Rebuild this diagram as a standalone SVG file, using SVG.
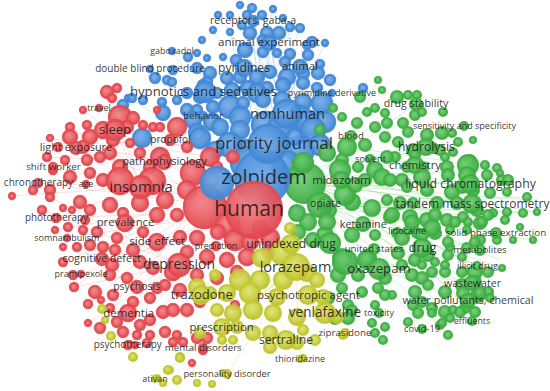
<svg xmlns="http://www.w3.org/2000/svg" width="550" height="391" viewBox="0 0 550 391">
<defs>
<radialGradient id="gr" cx="0.42" cy="0.4" r="0.6"><stop offset="0" stop-color="#f27f82"/><stop offset="1" stop-color="#e1444b"/></radialGradient>
<radialGradient id="gb" cx="0.42" cy="0.4" r="0.6"><stop offset="0" stop-color="#72ace9"/><stop offset="1" stop-color="#3f85d2"/></radialGradient>
<radialGradient id="gg" cx="0.42" cy="0.4" r="0.6"><stop offset="0" stop-color="#6fcd72"/><stop offset="1" stop-color="#3aaa3f"/></radialGradient>
<radialGradient id="gy" cx="0.42" cy="0.4" r="0.6"><stop offset="0" stop-color="#dde36a"/><stop offset="1" stop-color="#bcc22a"/></radialGradient>
</defs>
<style>
.r{fill:url(#gr);fill-opacity:.92;stroke:#e24a50;stroke-width:2.4;stroke-opacity:.92}
.b{fill:url(#gb);fill-opacity:.92;stroke:#4489d4;stroke-width:2.4;stroke-opacity:.92}
.g{fill:url(#gg);fill-opacity:.92;stroke:#3fae44;stroke-width:2.2;stroke-opacity:.92}
.y{fill:url(#gy);fill-opacity:.92;stroke:#c0c630;stroke-width:2.2;stroke-opacity:.92}
text{font-family:"Open Sans","Noto Sans","DejaVu Sans",sans-serif;fill:#1c1c1c;fill-opacity:.9;text-anchor:middle}
.eb line{stroke:#5b9be0;stroke-opacity:.32;stroke-width:.7}
.er line{stroke:#ec6b6f;stroke-opacity:.32;stroke-width:.7}
.eg line{stroke:#5cc160;stroke-opacity:.35;stroke-width:.7}
.ey line{stroke:#cfd24a;stroke-opacity:.4;stroke-width:.7}
</style>
<rect width="550" height="391" fill="#ffffff"/>
<g id="connectors">
<g class="eb">
<line x1="262" y1="178" x2="253" y2="21"/><line x1="262" y1="178" x2="269" y2="43"/><line x1="262" y1="178" x2="244" y2="68"/><line x1="262" y1="178" x2="300" y2="67"/><line x1="262" y1="178" x2="203" y2="92"/><line x1="262" y1="178" x2="230" y2="32"/><line x1="262" y1="178" x2="290" y2="27"/><line x1="262" y1="178" x2="310" y2="42"/><line x1="262" y1="178" x2="325" y2="43"/><line x1="262" y1="178" x2="172" y2="51"/><line x1="262" y1="178" x2="150" y2="69"/><line x1="262" y1="178" x2="197" y2="68"/><line x1="273" y1="144" x2="253" y2="21"/><line x1="273" y1="144" x2="269" y2="43"/><line x1="273" y1="144" x2="250" y2="33"/><line x1="273" y1="144" x2="280" y2="30"/><line x1="273" y1="144" x2="300" y2="67"/><line x1="273" y1="144" x2="317" y2="75"/><line x1="287" y1="114" x2="253" y2="21"/><line x1="287" y1="114" x2="269" y2="43"/><line x1="287" y1="114" x2="247" y2="15"/><line x1="287" y1="114" x2="262" y2="15"/><line x1="240" y1="140" x2="273" y2="9"/><line x1="300" y1="130" x2="218" y2="15"/><line x1="250" y1="160" x2="300" y2="28"/><line x1="273" y1="144" x2="332" y2="93"/><line x1="262" y1="178" x2="128" y2="98"/><line x1="240" y1="130" x2="290" y2="27"/><line x1="300" y1="118" x2="230" y2="15"/><line x1="265" y1="125" x2="213" y2="30"/>
</g>
<g class="er">
<line x1="252" y1="210" x2="115" y2="130"/><line x1="252" y1="210" x2="76" y2="148"/><line x1="252" y1="210" x2="53" y2="167"/><line x1="252" y1="210" x2="38" y2="183"/><line x1="252" y1="210" x2="56" y2="218"/><line x1="252" y1="210" x2="67" y2="238"/><line x1="252" y1="210" x2="81" y2="274"/><line x1="252" y1="210" x2="102" y2="259"/><line x1="252" y1="210" x2="128" y2="313"/><line x1="252" y1="210" x2="137" y2="287"/><line x1="252" y1="210" x2="128" y2="345"/><line x1="252" y1="210" x2="99" y2="108"/><line x1="252" y1="210" x2="164" y2="162"/><line x1="141" y1="187" x2="115" y2="130"/><line x1="141" y1="187" x2="76" y2="148"/><line x1="141" y1="187" x2="38" y2="183"/><line x1="141" y1="187" x2="56" y2="218"/><line x1="141" y1="187" x2="107" y2="92"/><line x1="205" y1="205" x2="83" y2="110"/><line x1="205" y1="205" x2="70" y2="127"/><line x1="205" y1="205" x2="110" y2="308"/><line x1="205" y1="205" x2="74" y2="287"/><line x1="179" y1="265" x2="100" y2="327"/><line x1="179" y1="265" x2="42" y2="210"/><line x1="141" y1="187" x2="12" y2="196"/><line x1="141" y1="187" x2="70" y2="127"/><line x1="164" y1="162" x2="47" y2="157"/><line x1="164" y1="162" x2="50" y2="138"/><line x1="115" y1="130" x2="230" y2="157"/><line x1="115" y1="130" x2="187" y2="147"/><line x1="205" y1="205" x2="55" y2="230"/><line x1="205" y1="205" x2="63" y2="262"/><line x1="205" y1="205" x2="88" y2="304"/><line x1="179" y1="265" x2="74" y2="287"/><line x1="179" y1="265" x2="88" y2="323"/><line x1="179" y1="265" x2="50" y2="197"/><line x1="120" y1="117" x2="233" y2="157"/><line x1="90" y1="137" x2="210" y2="157"/>
</g>
<g class="eg">
<line x1="305" y1="183" x2="416" y2="104"/><line x1="305" y1="183" x2="464" y2="126"/><line x1="305" y1="183" x2="426" y2="147"/><line x1="305" y1="183" x2="470" y2="184"/><line x1="305" y1="183" x2="472" y2="204"/><line x1="305" y1="183" x2="496" y2="233"/><line x1="305" y1="183" x2="480" y2="250"/><line x1="305" y1="183" x2="477" y2="266"/><line x1="305" y1="183" x2="472" y2="283"/><line x1="305" y1="183" x2="468" y2="301"/><line x1="305" y1="183" x2="472" y2="321"/><line x1="305" y1="183" x2="422" y2="329"/><line x1="305" y1="183" x2="530" y2="200"/><line x1="305" y1="183" x2="508" y2="180"/><line x1="305" y1="183" x2="500" y2="260"/><line x1="341" y1="180" x2="470" y2="184"/><line x1="341" y1="180" x2="472" y2="204"/><line x1="341" y1="180" x2="496" y2="233"/><line x1="341" y1="180" x2="537" y2="212"/><line x1="379" y1="269" x2="472" y2="283"/><line x1="379" y1="269" x2="468" y2="301"/><line x1="379" y1="269" x2="496" y2="233"/><line x1="379" y1="269" x2="480" y2="250"/><line x1="262" y1="178" x2="470" y2="184"/><line x1="262" y1="178" x2="472" y2="204"/><line x1="262" y1="178" x2="426" y2="147"/><line x1="320" y1="205" x2="449" y2="335"/><line x1="320" y1="205" x2="523" y2="213"/><line x1="347" y1="147" x2="497" y2="168"/><line x1="347" y1="147" x2="378" y2="80"/><line x1="320" y1="205" x2="533" y2="240"/><line x1="320" y1="205" x2="537" y2="212"/><line x1="320" y1="205" x2="527" y2="197"/><line x1="320" y1="205" x2="502" y2="268"/><line x1="320" y1="205" x2="490" y2="298"/><line x1="320" y1="205" x2="460" y2="320"/><line x1="341" y1="180" x2="497" y2="168"/><line x1="341" y1="180" x2="485" y2="163"/><line x1="341" y1="180" x2="473" y2="140"/><line x1="352" y1="202" x2="505" y2="220"/><line x1="352" y1="202" x2="488" y2="272"/><line x1="352" y1="202" x2="475" y2="312"/>
</g>
<g class="ey">
<line x1="296" y1="267" x2="155" y2="379"/><line x1="296" y1="267" x2="227" y2="374"/><line x1="296" y1="267" x2="300" y2="359"/><line x1="296" y1="267" x2="345" y2="333"/><line x1="296" y1="267" x2="222" y2="327"/><line x1="252" y1="210" x2="286" y2="340"/><line x1="252" y1="210" x2="325" y2="313"/><line x1="252" y1="210" x2="201" y2="295"/><line x1="262" y1="178" x2="325" y2="313"/><line x1="296" y1="267" x2="180" y2="357"/>
</g>
</g>
<g id="cluster-blue-minor" class="b">
<circle cx="252" cy="8" r="4"/><circle cx="273" cy="9" r="3"/><circle cx="218" cy="15" r="3"/><circle cx="230" cy="15" r="3"/><circle cx="247" cy="15" r="4"/><circle cx="262" cy="15" r="4"/><circle cx="242" cy="25" r="4"/><circle cx="250" cy="33" r="6"/><circle cx="267" cy="33" r="6"/><circle cx="279" cy="33" r="6"/><circle cx="290" cy="27" r="4"/><circle cx="300" cy="28" r="4"/><circle cx="213" cy="30" r="3"/><circle cx="230" cy="32" r="3"/><circle cx="283" cy="18" r="3"/><circle cx="240" cy="5" r="3"/><circle cx="202" cy="40" r="3"/><circle cx="263" cy="40" r="5"/>
<circle cx="245" cy="50" r="7"/><circle cx="263" cy="52" r="5"/><circle cx="277" cy="53" r="4"/><circle cx="290" cy="54" r="5"/><circle cx="307" cy="45" r="4"/><circle cx="312" cy="42" r="5"/><circle cx="325" cy="43" r="3"/><circle cx="308" cy="55" r="5"/><circle cx="188" cy="57" r="4"/><circle cx="197" cy="53" r="3"/><circle cx="207" cy="58" r="3"/><circle cx="223" cy="57" r="3"/><circle cx="236" cy="60" r="5"/><circle cx="285" cy="62" r="5"/><circle cx="320" cy="64" r="4"/>
<circle cx="197" cy="68" r="5"/><circle cx="210" cy="73" r="6"/><circle cx="227" cy="78" r="6"/><circle cx="240" cy="77" r="6"/><circle cx="257" cy="77" r="7"/><circle cx="270" cy="72" r="6"/><circle cx="287" cy="77" r="8"/><circle cx="303" cy="73" r="6"/><circle cx="318" cy="73" r="6"/><circle cx="330" cy="80" r="5"/><circle cx="167" cy="80" r="4"/><circle cx="155" cy="78" r="5"/><circle cx="173" cy="70" r="4"/><circle cx="172" cy="82" r="4"/><circle cx="207" cy="82" r="5"/><circle cx="363" cy="88" r="4"/>
<circle cx="203" cy="85" r="5"/><circle cx="187" cy="93" r="5"/><circle cx="200" cy="97" r="6"/><circle cx="217" cy="93" r="5"/><circle cx="232" cy="90" r="7"/><circle cx="248" cy="88" r="7"/><circle cx="267" cy="88" r="6"/><circle cx="283" cy="85" r="7"/><circle cx="303" cy="83" r="6"/><circle cx="317" cy="88" r="5"/><circle cx="162" cy="102" r="4"/><circle cx="177" cy="100" r="4"/><circle cx="128" cy="98" r="3"/><circle cx="123" cy="105" r="5"/><circle cx="132" cy="98" r="4"/><circle cx="143" cy="100" r="4"/>
<circle cx="163" cy="113" r="7"/><circle cx="187" cy="110" r="6"/><circle cx="197" cy="110" r="5"/><circle cx="213" cy="107" r="6"/><circle cx="230" cy="107" r="11"/><circle cx="243" cy="103" r="6"/><circle cx="257" cy="93" r="9"/><circle cx="263" cy="100" r="7"/><circle cx="282" cy="100" r="8"/><circle cx="303" cy="102" r="8"/><circle cx="322" cy="103" r="10"/>
<circle cx="193" cy="120" r="8"/><circle cx="212" cy="122" r="8"/><circle cx="240" cy="117" r="10"/><circle cx="197" cy="132" r="8"/><circle cx="220" cy="127" r="8"/><circle cx="240" cy="130" r="9"/><circle cx="265" cy="125" r="13"/><circle cx="300" cy="118" r="12"/><circle cx="308" cy="123" r="12"/><circle cx="325" cy="122" r="10"/><circle cx="280" cy="128" r="12"/><circle cx="313" cy="130" r="12"/>
<circle cx="142" cy="138" r="9"/><circle cx="160" cy="153" r="5"/><circle cx="200" cy="138" r="10"/><circle cx="247" cy="150" r="10"/><circle cx="230" cy="145" r="12"/><circle cx="300" cy="150" r="14"/><circle cx="320" cy="145" r="10"/><circle cx="295" cy="137" r="8"/><circle cx="215" cy="150" r="8"/>
<circle cx="247" cy="163" r="16"/><circle cx="286" cy="165" r="14"/><circle cx="295" cy="210" r="4"/><circle cx="287" cy="245" r="4"/>
</g>
<g id="cluster-red-minor" class="r">
<circle cx="117" cy="88" r="4"/><circle cx="107" cy="92" r="6"/><circle cx="112" cy="98" r="4"/><circle cx="83" cy="110" r="3"/><circle cx="120" cy="117" r="11"/><circle cx="133" cy="118" r="6"/><circle cx="157" cy="110" r="3"/><circle cx="70" cy="127" r="4"/><circle cx="87" cy="125" r="4"/><circle cx="103" cy="130" r="8"/><circle cx="127" cy="127" r="6"/><circle cx="143" cy="125" r="4"/><circle cx="153" cy="127" r="4"/><circle cx="160" cy="127" r="4"/><circle cx="177" cy="127" r="9"/>
<circle cx="50" cy="138" r="3"/><circle cx="70" cy="137" r="7"/><circle cx="90" cy="137" r="7"/><circle cx="113" cy="140" r="6"/><circle cx="130" cy="143" r="4"/><circle cx="187" cy="147" r="5"/><circle cx="58" cy="147" r="4"/><circle cx="83" cy="147" r="6"/><circle cx="110" cy="153" r="6"/><circle cx="140" cy="153" r="5"/><circle cx="160" cy="157" r="9"/><circle cx="210" cy="157" r="9"/><circle cx="233" cy="157" r="6"/><circle cx="47" cy="157" r="4"/><circle cx="65" cy="160" r="4"/><circle cx="87" cy="160" r="5"/><circle cx="100" cy="157" r="5"/>
<circle cx="120" cy="167" r="7"/><circle cx="150" cy="167" r="6"/><circle cx="193" cy="173" r="12"/><circle cx="217" cy="167" r="5"/><circle cx="53" cy="170" r="4"/><circle cx="70" cy="177" r="6"/><circle cx="90" cy="173" r="5"/><circle cx="103" cy="180" r="6"/><circle cx="33" cy="190" r="4"/><circle cx="50" cy="190" r="5"/><circle cx="12" cy="196" r="3"/><circle cx="120" cy="181" r="13"/><circle cx="152" cy="181" r="13"/><circle cx="187" cy="190" r="9"/><circle cx="210" cy="180" r="8"/>
<circle cx="50" cy="197" r="4"/><circle cx="80" cy="202" r="6"/><circle cx="110" cy="205" r="7"/><circle cx="90" cy="210" r="5"/><circle cx="42" cy="210" r="4"/><circle cx="63" cy="208" r="3"/><circle cx="72" cy="210" r="3"/><circle cx="85" cy="220" r="4"/><circle cx="123" cy="213" r="5"/><circle cx="157" cy="215" r="7"/><circle cx="177" cy="215" r="6"/><circle cx="140" cy="203" r="8"/><circle cx="165" cy="200" r="8"/>
<circle cx="205" cy="207" r="21"/><circle cx="228" cy="225" r="12"/><circle cx="235" cy="240" r="10"/><circle cx="270" cy="238" r="9"/><circle cx="250" cy="242" r="8"/>
<circle cx="55" cy="230" r="3"/><circle cx="68" cy="227" r="4"/><circle cx="83" cy="230" r="4"/><circle cx="97" cy="232" r="5"/><circle cx="117" cy="238" r="5"/><circle cx="143" cy="232" r="5"/><circle cx="180" cy="237" r="6"/><circle cx="197" cy="238" r="7"/><circle cx="218" cy="232" r="7"/><circle cx="260" cy="228" r="7"/><circle cx="268" cy="252" r="6"/>
<circle cx="63" cy="247" r="3"/><circle cx="77" cy="247" r="4"/><circle cx="90" cy="245" r="5"/><circle cx="103" cy="247" r="5"/><circle cx="115" cy="250" r="5"/><circle cx="133" cy="250" r="6"/><circle cx="187" cy="252" r="6"/><circle cx="207" cy="257" r="7"/><circle cx="227" cy="260" r="7"/><circle cx="247" cy="257" r="8"/><circle cx="63" cy="262" r="4"/><circle cx="112" cy="265" r="6"/><circle cx="140" cy="262" r="6"/><circle cx="153" cy="268" r="6"/><circle cx="173" cy="272" r="8"/><circle cx="197" cy="275" r="6"/><circle cx="217" cy="278" r="6"/><circle cx="237" cy="272" r="6"/>
<circle cx="73" cy="275" r="4"/><circle cx="74" cy="287" r="4"/><circle cx="95" cy="292" r="6"/><circle cx="110" cy="275" r="5"/><circle cx="127" cy="278" r="5"/><circle cx="113" cy="295" r="5"/><circle cx="150" cy="298" r="5"/><circle cx="157" cy="288" r="5"/><circle cx="165" cy="285" r="5"/><circle cx="180" cy="290" r="6"/><circle cx="88" cy="304" r="4"/><circle cx="101" cy="300" r="3"/><circle cx="133" cy="302" r="5"/><circle cx="110" cy="308" r="4"/>
<circle cx="117" cy="322" r="5"/><circle cx="140" cy="325" r="5"/><circle cx="150" cy="320" r="5"/><circle cx="163" cy="312" r="6"/><circle cx="173" cy="310" r="6"/><circle cx="187" cy="310" r="6"/><circle cx="200" cy="302" r="5"/><circle cx="100" cy="328" r="5"/><circle cx="123" cy="332" r="5"/><circle cx="137" cy="335" r="4"/><circle cx="150" cy="335" r="4"/><circle cx="165" cy="332" r="5"/><circle cx="177" cy="335" r="4"/><circle cx="173" cy="342" r="4"/><circle cx="183" cy="342" r="4"/><circle cx="197" cy="338" r="5"/><circle cx="207" cy="338" r="5"/><circle cx="192" cy="363" r="3"/><circle cx="203" cy="350" r="4"/><circle cx="147" cy="343" r="4"/><circle cx="135" cy="345" r="3"/><circle cx="88" cy="323" r="3"/><circle cx="235" cy="305" r="4"/>
</g>
<g id="cluster-green-minor" class="g">
<circle cx="378" cy="80" r="3"/><circle cx="382" cy="90" r="3"/><circle cx="360" cy="97" r="5"/><circle cx="397" cy="97" r="6"/><circle cx="408" cy="95" r="4"/><circle cx="417" cy="95" r="4"/><circle cx="415" cy="115" r="5"/><circle cx="422" cy="112" r="4"/><circle cx="443" cy="112" r="4"/><circle cx="375" cy="108" r="4"/><circle cx="385" cy="113" r="4"/><circle cx="367" cy="112" r="4"/><circle cx="333" cy="108" r="4"/><circle cx="342" cy="117" r="4"/>
<circle cx="357" cy="123" r="5"/><circle cx="375" cy="127" r="5"/><circle cx="387" cy="123" r="5"/><circle cx="403" cy="123" r="5"/><circle cx="408" cy="132" r="5"/><circle cx="427" cy="135" r="6"/><circle cx="442" cy="133" r="6"/><circle cx="452" cy="133" r="4"/><circle cx="458" cy="142" r="4"/><circle cx="473" cy="140" r="3"/><circle cx="347" cy="147" r="9"/><circle cx="365" cy="145" r="6"/><circle cx="385" cy="137" r="5"/><circle cx="398" cy="142" r="5"/><circle cx="413" cy="150" r="6"/><circle cx="433" cy="148" r="5"/><circle cx="440" cy="150" r="5"/><circle cx="453" cy="152" r="4"/>
<circle cx="445" cy="157" r="4"/><circle cx="470" cy="160" r="5"/><circle cx="485" cy="165" r="4"/><circle cx="497" cy="168" r="4"/><circle cx="342" cy="160" r="6"/><circle cx="358" cy="167" r="5"/><circle cx="375" cy="170" r="8"/><circle cx="395" cy="157" r="5"/><circle cx="415" cy="155" r="5"/><circle cx="387" cy="157" r="6"/><circle cx="407" cy="167" r="5"/><circle cx="423" cy="167" r="5"/><circle cx="447" cy="167" r="6"/><circle cx="468" cy="165" r="10"/><circle cx="467" cy="175" r="8"/><circle cx="487" cy="175" r="5"/><circle cx="502" cy="180" r="5"/><circle cx="500" cy="173" r="3"/>
<circle cx="365" cy="180" r="6"/><circle cx="382" cy="177" r="8"/><circle cx="402" cy="180" r="6"/><circle cx="422" cy="177" r="8"/><circle cx="448" cy="175" r="6"/><circle cx="462" cy="187" r="6"/><circle cx="390" cy="180" r="6"/><circle cx="407" cy="187" r="5"/><circle cx="427" cy="190" r="6"/><circle cx="452" cy="192" r="7"/><circle cx="473" cy="190" r="6"/><circle cx="490" cy="193" r="5"/><circle cx="507" cy="192" r="4"/><circle cx="527" cy="197" r="4"/><circle cx="508" cy="180" r="5"/>
<circle cx="387" cy="200" r="5"/><circle cx="400" cy="203" r="6"/><circle cx="413" cy="203" r="5"/><circle cx="437" cy="203" r="6"/><circle cx="457" cy="203" r="6"/><circle cx="477" cy="210" r="6"/><circle cx="493" cy="213" r="4"/><circle cx="507" cy="212" r="4"/><circle cx="523" cy="213" r="4"/><circle cx="537" cy="212" r="3"/><circle cx="390" cy="217" r="6"/><circle cx="410" cy="217" r="7"/><circle cx="427" cy="220" r="7"/><circle cx="447" cy="220" r="6"/><circle cx="463" cy="217" r="5"/><circle cx="480" cy="223" r="6"/><circle cx="505" cy="220" r="4"/><circle cx="520" cy="227" r="3"/>
<circle cx="397" cy="233" r="5"/><circle cx="417" cy="233" r="5"/><circle cx="435" cy="233" r="6"/><circle cx="450" cy="230" r="4"/><circle cx="467" cy="230" r="4"/><circle cx="480" cy="240" r="5"/><circle cx="497" cy="240" r="4"/><circle cx="513" cy="240" r="3"/><circle cx="533" cy="240" r="3"/><circle cx="450" cy="247" r="4"/><circle cx="467" cy="248" r="5"/>
<circle cx="328" cy="210" r="8"/><circle cx="352" cy="202" r="8"/><circle cx="372" cy="208" r="8"/><circle cx="392" cy="215" r="7"/><circle cx="412" cy="222" r="7"/><circle cx="432" cy="228" r="8"/><circle cx="435" cy="215" r="6"/><circle cx="455" cy="222" r="5"/><circle cx="468" cy="222" r="4"/><circle cx="482" cy="222" r="5"/><circle cx="488" cy="215" r="5"/><circle cx="308" cy="222" r="8"/><circle cx="298" cy="232" r="7"/><circle cx="325" cy="235" r="8"/><circle cx="352" cy="235" r="7"/><circle cx="375" cy="235" r="5"/><circle cx="402" cy="238" r="7"/><circle cx="422" cy="235" r="6"/><circle cx="448" cy="242" r="5"/><circle cx="475" cy="242" r="5"/>
<circle cx="448" cy="255" r="5"/><circle cx="462" cy="257" r="4"/><circle cx="428" cy="255" r="6"/><circle cx="415" cy="260" r="6"/><circle cx="398" cy="253" r="6"/><circle cx="368" cy="258" r="8"/><circle cx="342" cy="258" r="9"/><circle cx="338" cy="275" r="7"/><circle cx="358" cy="275" r="6"/><circle cx="385" cy="278" r="6"/><circle cx="412" cy="275" r="6"/><circle cx="422" cy="278" r="6"/><circle cx="432" cy="272" r="5"/><circle cx="445" cy="272" r="5"/><circle cx="462" cy="272" r="5"/><circle cx="475" cy="272" r="7"/><circle cx="488" cy="272" r="5"/><circle cx="502" cy="268" r="3"/><circle cx="402" cy="265" r="5"/><circle cx="422" cy="265" r="4"/><circle cx="435" cy="262" r="4"/><circle cx="445" cy="265" r="4"/>
<circle cx="342" cy="288" r="5"/><circle cx="362" cy="292" r="5"/><circle cx="378" cy="288" r="5"/><circle cx="392" cy="295" r="4"/><circle cx="415" cy="292" r="6"/><circle cx="428" cy="285" r="5"/><circle cx="445" cy="292" r="6"/><circle cx="462" cy="285" r="6"/><circle cx="475" cy="282" r="6"/><circle cx="478" cy="295" r="7"/><circle cx="488" cy="292" r="5"/><circle cx="328" cy="298" r="6"/><circle cx="385" cy="295" r="5"/><circle cx="348" cy="305" r="5"/><circle cx="375" cy="305" r="4"/><circle cx="413" cy="305" r="5"/><circle cx="422" cy="302" r="5"/><circle cx="432" cy="308" r="5"/><circle cx="445" cy="312" r="6"/><circle cx="465" cy="308" r="5"/><circle cx="475" cy="312" r="5"/><circle cx="463" cy="293" r="6"/><circle cx="480" cy="293" r="6"/><circle cx="490" cy="298" r="4"/>
<circle cx="335" cy="318" r="6"/><circle cx="348" cy="318" r="6"/><circle cx="352" cy="310" r="5"/><circle cx="372" cy="323" r="4"/><circle cx="385" cy="327" r="4"/><circle cx="408" cy="322" r="4"/><circle cx="418" cy="313" r="5"/><circle cx="432" cy="313" r="4"/><circle cx="440" cy="325" r="4"/><circle cx="450" cy="318" r="4"/><circle cx="448" cy="335" r="4"/><circle cx="375" cy="333" r="4"/><circle cx="383" cy="340" r="4"/><circle cx="453" cy="310" r="4"/><circle cx="460" cy="312" r="5"/><circle cx="442" cy="323" r="4"/>
<circle cx="305" cy="183" r="20"/><circle cx="303" cy="163" r="10"/><circle cx="327" cy="153" r="8"/><circle cx="320" cy="205" r="12"/><circle cx="297" cy="213" r="8"/><circle cx="327" cy="222" r="8"/><circle cx="340" cy="170" r="10"/><circle cx="345" cy="195" r="10"/><circle cx="330" cy="243" r="10"/><circle cx="345" cy="262" r="12"/><circle cx="367" cy="260" r="9"/><circle cx="313" cy="240" r="7"/><circle cx="320" cy="130" r="5"/><circle cx="355" cy="185" r="7"/>
</g>
<g id="cluster-yellow-minor" class="y">
<circle cx="240" cy="280" r="10"/><circle cx="260" cy="280" r="9"/><circle cx="283" cy="280" r="9"/><circle cx="307" cy="273" r="8"/><circle cx="317" cy="280" r="7"/><circle cx="227" cy="293" r="8"/><circle cx="250" cy="293" r="10"/><circle cx="277" cy="297" r="8"/><circle cx="323" cy="297" r="7"/><circle cx="233" cy="313" r="8"/><circle cx="253" cy="310" r="9"/><circle cx="273" cy="313" r="8"/><circle cx="297" cy="317" r="8"/><circle cx="337" cy="317" r="6"/>
<circle cx="237" cy="327" r="6"/><circle cx="253" cy="333" r="7"/><circle cx="270" cy="333" r="7"/><circle cx="303" cy="330" r="5"/><circle cx="270" cy="347" r="6"/><circle cx="297" cy="343" r="6"/><circle cx="222" cy="340" r="4"/><circle cx="233" cy="340" r="4"/><circle cx="217" cy="310" r="6"/><circle cx="197" cy="287" r="8"/><circle cx="210" cy="293" r="6"/><circle cx="283" cy="253" r="12"/><circle cx="262" cy="258" r="9"/><circle cx="290" cy="228" r="5"/><circle cx="215" cy="275" r="5"/>
<circle cx="303" cy="358" r="3"/><circle cx="180" cy="357" r="4"/><circle cx="170" cy="370" r="3"/><circle cx="157" cy="378" r="3"/><circle cx="163" cy="383" r="3"/><circle cx="177" cy="380" r="4"/><circle cx="197" cy="383" r="3"/><circle cx="212" cy="384" r="3"/><circle cx="223" cy="373" r="3"/><circle cx="102" cy="309" r="4"/><circle cx="105" cy="320" r="3"/><circle cx="111" cy="336" r="4"/><circle cx="133" cy="357" r="4"/><circle cx="168" cy="370" r="4"/><circle cx="180" cy="358" r="4"/><circle cx="200" cy="333" r="5"/><circle cx="343" cy="335" r="4"/><circle cx="315" cy="340" r="5"/>
</g>
<g id="node-zolpidem"><circle class="b" cx="262" cy="178" r="27"/><circle class="b" cx="217" cy="183" r="16"/><text x="264" y="184" font-size="20">zolpidem</text></g>
<g id="node-human"><circle class="r" cx="254" cy="210" r="28"/><text x="249" y="216" font-size="21">human</text></g>
<g id="node-priority-journal"><circle class="b" cx="268" cy="144" r="19"/><text x="274" y="149" font-size="17">priority journal</text></g>
<g id="node-nonhuman"><circle class="b" cx="287" cy="114" r="14"/><text x="287.5" y="118.5" font-size="14.6">nonhuman</text></g>
<g id="node-insomnia"><circle class="r" cx="141" cy="187" r="11"/><text x="141" y="191.5" font-size="14.8">insomnia</text></g>
<g id="node-lorazepam"><circle class="y" cx="296" cy="267" r="13"/><text x="295.5" y="271.5" font-size="14.5">lorazepam</text></g>
<g id="node-depression"><circle class="r" cx="179" cy="265" r="11"/><text x="179" y="269" font-size="13.9">depression</text></g>
<g id="node-hypnotics-and-sedatives"><circle class="b" cx="205" cy="92" r="10"/><text x="203.5" y="96" font-size="13.2">hypnotics and sedatives</text></g>
<g id="node-sleep"><circle class="r" cx="115" cy="130" r="10"/><text x="115" y="134" font-size="13">sleep</text></g>
<g id="node-oxazepam"><circle class="g" cx="379" cy="269" r="10"/><text x="379" y="273" font-size="13.2">oxazepam</text></g>
<g id="node-venlafaxine"><circle class="y" cx="325" cy="313" r="10"/><text x="325" y="317.3" font-size="13.6">venlafaxine</text></g>
<g id="node-trazodone"><circle class="y" cx="201" cy="295" r="9"/><text x="201.7" y="299" font-size="13">trazodone</text></g>
<g id="node-liquid-chromatography"><circle class="g" cx="470" cy="184" r="9"/><text x="470.5" y="188" font-size="12.3">liquid chromatography</text></g>
<g id="node-tandem-mass-spectrometry"><circle class="g" cx="472" cy="204" r="9"/><text x="472.5" y="208" font-size="12">tandem mass spectrometry</text></g>
<g id="node-drug"><circle class="g" cx="422" cy="248" r="9"/><text x="422.5" y="251.7" font-size="12.8">drug</text></g>
<g id="node-unindexed-drug"><circle class="y" cx="291" cy="244" r="9"/><text x="291" y="248" font-size="12.1">unindexed drug</text></g>
<g id="node-psychotropic-agent"><circle class="y" cx="308" cy="295" r="9"/><text x="308.5" y="298.6" font-size="11.6">psychotropic agent</text></g>
<g id="node-sertraline"><circle class="y" cx="286" cy="340" r="9"/><text x="286" y="344" font-size="12.2">sertraline</text></g>
<g id="node-pyridines"><circle class="b" cx="244" cy="68" r="8"/><text x="244" y="71.7" font-size="12.1">pyridines</text></g>
<g id="node-hydrolysis"><circle class="g" cx="426" cy="147" r="8"/><text x="426.5" y="150.5" font-size="12.1">hydrolysis</text></g>
<g id="node-chemistry"><circle class="g" cx="415" cy="165" r="8"/><text x="415" y="168.5" font-size="11.4">chemistry</text></g>
<g id="node-midazolam"><circle class="g" cx="341" cy="180" r="8"/><text x="341.5" y="183.5" font-size="11.4">midazolam</text></g>
<g id="node-prescription"><circle class="y" cx="222" cy="327" r="8"/><text x="221.7" y="330.7" font-size="11.4">prescription</text></g>
<g id="node-dementia"><circle class="r" cx="128" cy="313" r="8"/><text x="128.7" y="316.8" font-size="11.5">dementia</text></g>
<g id="node-prevalence"><circle class="r" cx="125" cy="223" r="8"/><text x="125.5" y="226" font-size="11.3">prevalence</text></g>
<g id="node-side-effect"><circle class="r" cx="157" cy="242" r="8"/><text x="157" y="245.3" font-size="11.6">side effect</text></g>
<g id="node-pathophysiology"><circle class="r" cx="164" cy="162" r="7"/><text x="164.5" y="165.4" font-size="11">pathophysiology</text></g>
<g id="node-animal-experiment"><circle class="b" cx="269" cy="43" r="7"/><text x="269" y="46.2" font-size="11.6">animal experiment</text></g>
<g id="node-animal"><circle class="b" cx="300" cy="67" r="7"/><text x="300" y="70.2" font-size="11.4">animal</text></g>
<g id="node-ketamine"><circle class="g" cx="363" cy="224" r="7"/><text x="363.3" y="227.5" font-size="10.8">ketamine</text></g>
<g id="node-wastewater"><circle class="g" cx="472" cy="283" r="7"/><text x="472.5" y="286.5" font-size="10.6">wastewater</text></g>
<g id="node-water-pollutants-chemical"><circle class="g" cx="468" cy="301" r="7"/><text x="468" y="304.2" font-size="10.7">water pollutants, chemical</text></g>
<g id="node-light-exposure"><circle class="r" cx="76" cy="148" r="6"/><text x="76" y="151.3" font-size="10.9">light exposure</text></g>
<g id="node-cognitive-defect"><circle class="r" cx="102" cy="259" r="6"/><text x="101.7" y="262.2" font-size="10.7">cognitive defect</text></g>
<g id="node-psychosis"><circle class="r" cx="137" cy="287" r="6"/><text x="136.7" y="290" font-size="10.5">psychosis</text></g>
<g id="node-drug-stability"><circle class="g" cx="416" cy="104" r="6"/><text x="416" y="107.2" font-size="10.7">drug stability</text></g>
<g id="node-opiate"><circle class="g" cx="325" cy="203" r="6"/><text x="325.5" y="206.5" font-size="10.5">opiate</text></g>
<g id="node-receptors-gaba-a"><circle class="b" cx="253" cy="21" r="5"/><text x="253" y="24" font-size="10.6">receptors, gaba-a</text></g>
<g id="node-propofol"><circle class="r" cx="170" cy="140" r="5"/><text x="170.5" y="143" font-size="10">propofol</text></g>
<g id="node-blood"><circle class="g" cx="351" cy="136" r="5"/><text x="351" y="139" font-size="9.7">blood</text></g>
<g id="node-solid-phase-extraction"><circle class="g" cx="496" cy="233" r="5"/><text x="496" y="236.3" font-size="9.8">solid phase extraction</text></g>
<g id="node-united-states"><circle class="g" cx="374" cy="249" r="5"/><text x="374" y="252" font-size="9.7">united states</text></g>
<g id="node-metabolites"><circle class="g" cx="480" cy="250" r="5"/><text x="480" y="253" font-size="9.7">metabolites</text></g>
<g id="node-double-blind-procedure"><circle class="b" cx="150" cy="69" r="3"/><text x="150" y="72" font-size="10">double blind procedure</text></g>
<g id="node-behavior"><circle class="b" cx="203" cy="116" r="4"/><text x="203" y="119" font-size="9.7">behavior</text></g>
<g id="node-gaboxadol"><circle class="b" cx="172" cy="51" r="3"/><text x="172" y="53.7" font-size="9">gaboxadol</text></g>
<g id="node-pyrimidine-derivative"><circle class="b" cx="332" cy="93" r="3"/><text x="332" y="95.7" font-size="9">pyrimidine derivative</text></g>
<g id="node-travel"><circle class="r" cx="99" cy="108" r="3"/><text x="99" y="110.5" font-size="9">travel</text></g>
<g id="node-shift-worker"><circle class="r" cx="53" cy="167" r="4"/><text x="53.5" y="169.7" font-size="9.8">shift worker</text></g>
<g id="node-chronotherapy"><circle class="r" cx="38" cy="183" r="4"/><text x="38.5" y="185.7" font-size="10">chronotherapy</text></g>
<g id="node-age"><circle class="r" cx="86" cy="184" r="3"/><text x="86" y="186.5" font-size="8.8">age</text></g>
<g id="node-phototherapy"><circle class="r" cx="56" cy="218" r="4"/><text x="56.5" y="221.2" font-size="9.9">phototherapy</text></g>
<g id="node-somnambulism"><circle class="r" cx="67" cy="238" r="3"/><text x="66.8" y="240.6" font-size="9">somnambulism</text></g>
<g id="node-prediction"><circle class="r" cx="216" cy="246" r="4"/><text x="216" y="248.6" font-size="9">prediction</text></g>
<g id="node-pramipexole"><circle class="r" cx="81" cy="274" r="3"/><text x="81" y="277" font-size="9">pramipexole</text></g>
<g id="node-psychotherapy"><circle class="r" cx="128" cy="345" r="4"/><text x="127.8" y="348" font-size="9.9">psychotherapy</text></g>
<g id="node-mental-disorders"><circle class="r" cx="203" cy="348" r="4"/><text x="203.3" y="351.2" font-size="9.7">mental disorders</text></g>
<g id="node-ativan"><circle class="y" cx="155" cy="379" r="3"/><text x="155" y="381.8" font-size="9">ativan</text></g>
<g id="node-personality-disorder"><circle class="y" cx="227" cy="374" r="4"/><text x="227" y="376.8" font-size="9.3">personality disorder</text></g>
<g id="node-thioridazine"><circle class="y" cx="300" cy="359" r="3"/><text x="300" y="362" font-size="9">thioridazine</text></g>
<g id="node-ziprasidone"><circle class="y" cx="345" cy="333" r="4"/><text x="345" y="336.3" font-size="9.8">ziprasidone</text></g>
<g id="node-sensitivity-and-specificity"><circle class="g" cx="464" cy="126" r="4"/><text x="464.5" y="128.7" font-size="9">sensitivity and specificity</text></g>
<g id="node-solvent"><circle class="g" cx="370" cy="159" r="4"/><text x="370.5" y="162" font-size="9.2">solvent</text></g>
<g id="node-lidocaine"><circle class="g" cx="407" cy="231" r="4"/><text x="407" y="233.7" font-size="9">lidocaine</text></g>
<g id="node-illicit-drug"><circle class="g" cx="477" cy="266" r="4"/><text x="477.5" y="268.6" font-size="9">illicit drug</text></g>
<g id="node-toxicity"><circle class="g" cx="379" cy="313" r="4"/><text x="379" y="315.6" font-size="9">toxicity</text></g>
<g id="node-effluents"><circle class="g" cx="472" cy="321" r="4"/><text x="472" y="323.6" font-size="8.9">effluents</text></g>
<g id="node-covid-19"><circle class="g" cx="422" cy="329" r="4"/><text x="422" y="332" font-size="9.2">covid-19</text></g>
</svg>
